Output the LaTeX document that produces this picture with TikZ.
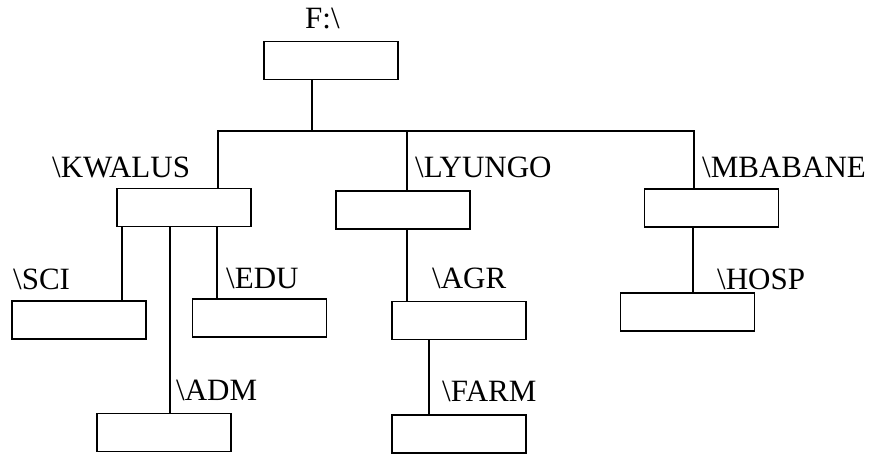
\documentclass[tikz,border=0pt]{standalone}
\usepackage{fontspec}
\setmainfont{Liberation Serif}
\begin{document}
\begin{tikzpicture}[x=1pt,y=-1pt,
  dirbox/.style={draw=black, line width=1.6pt, minimum width=134pt, minimum height=38pt, inner sep=0pt, fill=none},
  dirlabel/.style={anchor=base west, inner sep=0pt, font=\fontsize{31}{36}\selectfont},
  link/.style={line width=1.6pt, line cap=rect}]
\useasboundingbox (0,0) rectangle (873,454);
% boxes
\node[dirbox] (root) at (331,60.5) {};
\node[dirbox] (kwalus) at (184,207.5) {};
\node[dirbox] (lyungo) at (403,210) {};
\node[dirbox] (mbabane) at (711.5,208) {};
\node[dirbox] (sci) at (79,320) {};
\node[dirbox] (edu) at (259.5,318) {};
\node[dirbox] (adm) at (164,432.5) {};
\node[dirbox] (agr) at (459,320.5) {};
\node[dirbox] (farm) at (459,434) {};
\node[dirbox] (hosp) at (687.5,312) {};
% labels
\node[dirlabel] (lroot) at (305,29) {F:\textbackslash};
\node[dirlabel] (lkwalus) at (52,178) {\textbackslash KWALUS};
\node[dirlabel] (llyungo) at (415,178) {\textbackslash LYUNGO};
\node[dirlabel] (lmbabane) at (702,178) {\textbackslash MBABANE};
\node[dirlabel] (lsci) at (13,290) {\textbackslash SCI};
\node[dirlabel] (ledu) at (226,289) {\textbackslash EDU};
\node[dirlabel] (lagr) at (432,289) {\textbackslash AGR};
\node[dirlabel] (lhosp) at (717,290) {\textbackslash HOSP};
\node[dirlabel] (ladm) at (176,400) {\textbackslash ADM};
\node[dirlabel] (lfarm) at (442,401) {\textbackslash FARM};
% junction coordinates
\coordinate (j0) at (312,131);
\coordinate (j1) at (218,131);
\coordinate (j2) at (407,131);
\coordinate (j3) at (694,131);
\coordinate (xsci) at (122,0);
\coordinate (xadm) at (170,0);
\coordinate (xedu) at (217,0);
\coordinate (xagr) at (407,0);
\coordinate (xfarm) at (429,0);
\coordinate (xhosp) at (693,0);
% connectors
\draw[link] (j0 |- root.south) -- (j0);
\draw[link] (j1 |- kwalus.north) -- (j1) -- (j3) -- (j3 |- mbabane.north);
\draw[link] (j2) -- (j2 |- lyungo.north);
\draw[link] (kwalus.south -| xsci) -- (sci.north -| xsci);
\draw[link] (kwalus.south -| xadm) -- (adm.north -| xadm);
\draw[link] (kwalus.south -| xedu) -- (edu.north -| xedu);
\draw[link] (lyungo.south -| xagr) -- (agr.north -| xagr);
\draw[link] (agr.south -| xfarm) -- (farm.north -| xfarm);
\draw[link] (mbabane.south -| xhosp) -- (hosp.north -| xhosp);
\end{tikzpicture}
\end{document}
